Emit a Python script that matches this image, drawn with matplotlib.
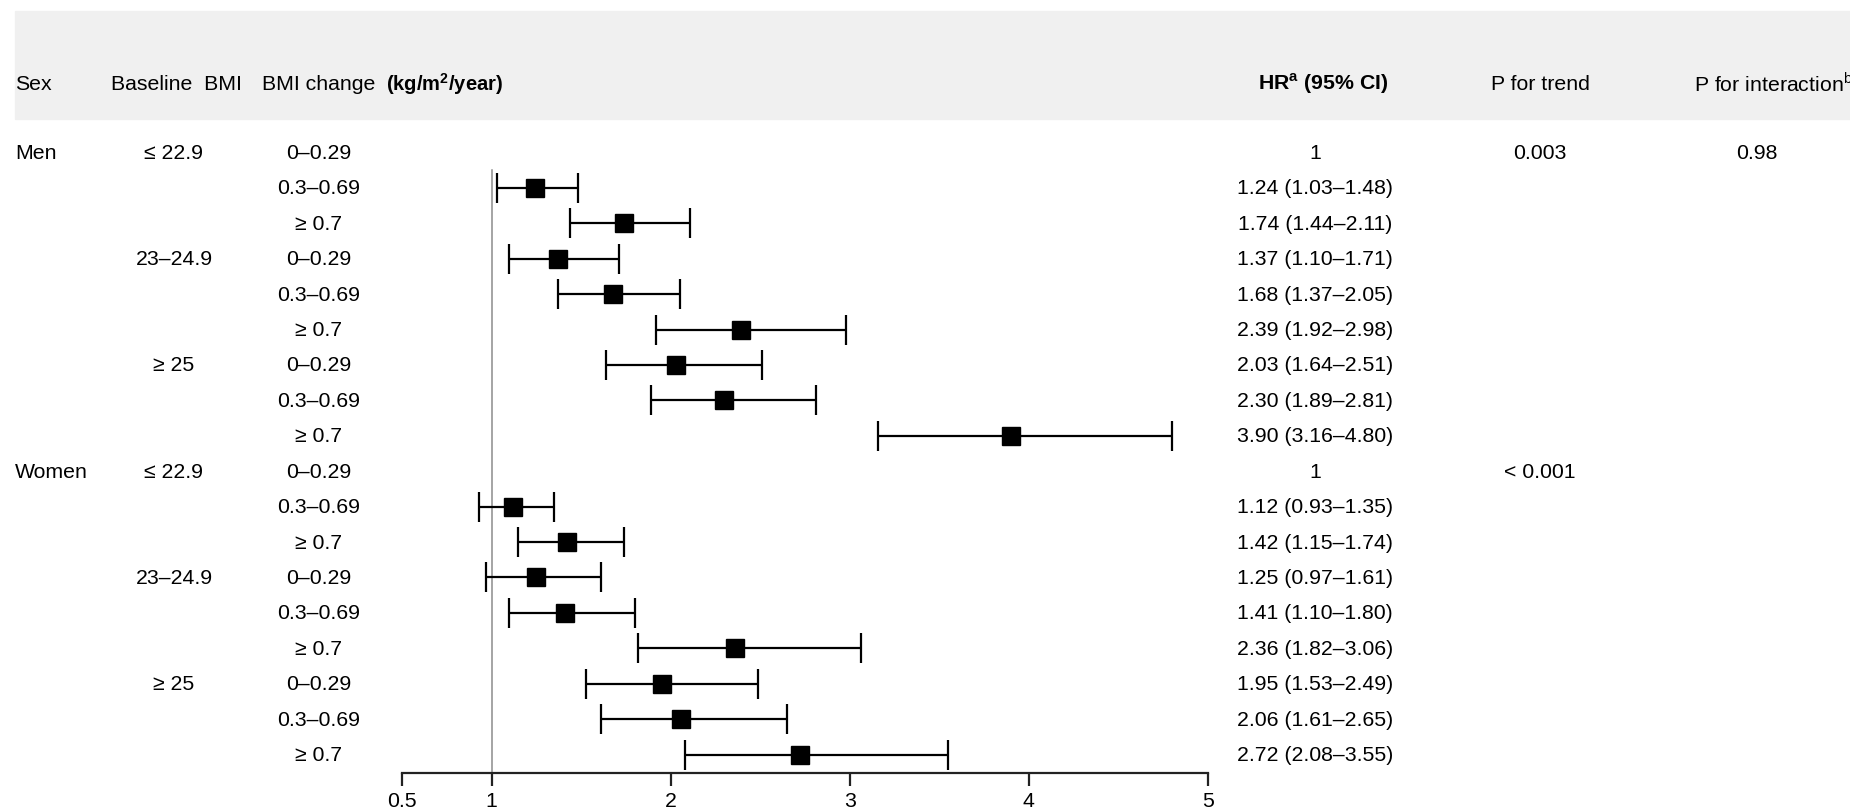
import numpy as np
import matplotlib.pyplot as plt
from matplotlib.patches import Rectangle
from matplotlib.transforms import blended_transform_factory

plt.rcParams['font.family'] = ['Liberation Sans', 'DejaVu Sans']
plt.rcParams['mathtext.fontset'] = 'custom'
plt.rcParams['mathtext.rm'] = 'Liberation Sans'
plt.rcParams['mathtext.bf'] = 'Liberation Sans:bold'

# data
sexes = ['Men', 'Women']
baseline_bmi = ['≤ 22.9', '23–24.9', '≥ 25']
bmi_change = ['0–0.29', '0.3–0.69', '≥ 0.7']

hr_men = [1, 1.24, 1.74, 1.37, 1.68, 2.39, 2.03, 2.30, 3.90]
lo_men = [np.nan, 1.03, 1.44, 1.10, 1.37, 1.92, 1.64, 1.89, 3.16]
hi_men = [np.nan, 1.48, 2.11, 1.71, 2.05, 2.98, 2.51, 2.81, 4.80]

hr_women = [1, 1.12, 1.42, 1.25, 1.41, 2.36, 1.95, 2.06, 2.72]
lo_women = [np.nan, 0.93, 1.15, 0.97, 1.10, 1.82, 1.53, 1.61, 2.08]
hi_women = [np.nan, 1.35, 1.74, 1.61, 1.80, 3.06, 2.49, 2.65, 3.55]

p_trend = ['0.003', '< 0.001']
p_interaction = '0.98'
xticks = [0.5, 1, 2, 3, 4, 5]

W, H = 1850, 812
FS = 15.3

def fx(px):
    return px / W

def fy(py):
    return 1 - py / H

fig = plt.figure(figsize=(W / 100, H / 100), dpi=100)

# grey header band
fig.add_artist(Rectangle((fx(15), fy(120)), 1 - fx(15), (120 - 12) / H,
                         transform=fig.transFigure, color='#f0f0f0', zorder=0))

# forest panel: row 0 at y=153.5px, row 17 at 755.5px, axis line at 774px
ax = fig.add_axes([fx(402), fy(774), fx(1208) - fx(402), (774 - 120) / H])
ax.set_xlim(0.5, 5)
ybot, ytop = 17.522, -0.946
ax.set_ylim(ybot, ytop)
ax.patch.set_alpha(0)
for s in ['top', 'left', 'right']:
    ax.spines[s].set_visible(False)
ax.spines['bottom'].set_linewidth(1.6)
ax.spines['bottom'].set_color('#222222')
ax.set_yticks([])
ax.set_xticks(xticks)
ax.set_xticklabels(['0.5', '1', '2', '3', '4', '5'])
ax.tick_params(axis='x', direction='out', length=9.5, width=1.6, color='#222222',
               labelsize=FS, pad=3.5)

hr = np.array(hr_men + hr_women)
lo = np.array(lo_men + lo_women)
hi = np.array(hi_men + hi_women)
rows = np.arange(len(hr))

ax.plot([1, 1], [0.5, ybot], color='#8c8c8c', lw=1.1, zorder=1)

ok = ~np.isnan(lo)
ax.errorbar(hr[ok], rows[ok], xerr=[hr[ok] - lo[ok], hi[ok] - hr[ok]], fmt='s',
            color='black', ms=13, capsize=10.5, elinewidth=1.6, capthick=1.6, zorder=3)

tr = blended_transform_factory(fig.transFigure, ax.transData)

# table columns
for i, s in enumerate(sexes):
    ax.text(fx(15), i * 9, s, transform=tr, ha='left', va='center', fontsize=FS)
    ax.text(fx(1540), i * 9, p_trend[i], transform=tr, ha='center', va='center', fontsize=FS)
    for j, b in enumerate(baseline_bmi):
        ax.text(fx(174), i * 9 + j * 3, b, transform=tr, ha='center', va='center', fontsize=FS)
ax.text(fx(1757), 0, p_interaction, transform=tr, ha='center', va='center', fontsize=FS)

for r in rows:
    ax.text(fx(319), r, bmi_change[r % 3], transform=tr, ha='center', va='center', fontsize=FS)
    if np.isnan(lo[r]):
        lab = '1'
    else:
        lab = f'{hr[r]:.2f} ({lo[r]:.2f}–{hi[r]:.2f})'
    ax.text(fx(1315), r, lab, transform=tr, ha='center', va='center', fontsize=FS)

# header
hy = fy(84)
fig.text(fx(15), hy, 'Sex', ha='left', va='center', fontsize=FS)
fig.text(fx(176), hy, 'Baseline  BMI', ha='center', va='center', fontsize=FS)
fig.text(fx(262), hy, 'BMI change', ha='left', va='center', fontsize=FS)
fig.text(fx(386), hy, r'(kg/m$^\mathbf{2}$/year)', ha='left', va='center',
         fontsize=FS * 0.95, fontweight='bold')
fig.text(fx(1323), hy, r'HR$^\mathbf{a}$ (95% CI)', ha='center', va='center',
         fontsize=FS, fontweight='bold')
fig.text(fx(1540), hy, 'P for trend', ha='center', va='center', fontsize=FS)
fig.text(fx(1694), hy, r'P for interaction$^\mathrm{b}$', ha='left', va='center', fontsize=FS)

fig.savefig('out.png', dpi=100)
